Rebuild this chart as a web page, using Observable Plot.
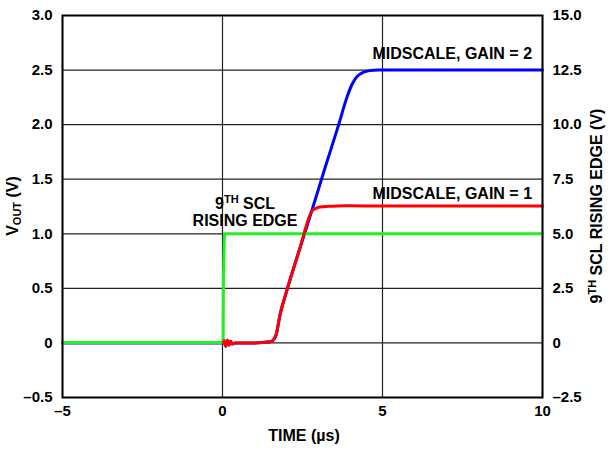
<!DOCTYPE html>
<html><head><meta charset="utf-8">
<script src="https://cdn.jsdelivr.net/npm/d3@7"></script>
<script src="https://cdn.jsdelivr.net/npm/@observablehq/plot@0.6"></script>
<style>
body{margin:0;background:#fff}
#chart svg{font-family:"Liberation Sans",Arial,sans-serif}
</style>
</head><body><div id="chart"></div>
<script>
// Time (µs)
const gain2Time = [-5, 0, 0.05, 0.1, 0.15, 0.2, 0.25, 0.3, 0.4, 1.0, 1.5, 1.6, 1.68, 1.8, 2.0, 2.4, 2.8, 3.2, 3.63, 3.9, 4.05, 4.2, 4.4, 4.6, 4.85, 5.5, 7, 10];
const gain2Vout = [0, 0, 0.02, -0.03, 0.025, -0.02, 0.015, -0.01, 0, 0.0, 0.01, 0.03, 0.08, 0.26, 0.47, 0.85, 1.22, 1.6, 2.0, 2.26, 2.37, 2.44, 2.48, 2.495, 2.5, 2.5, 2.5, 2.5];

const gain1Time = [0.03, 0.05, 0.1, 0.15, 0.2, 0.25, 0.3, 0.4, 1.0, 1.5, 1.6, 1.68, 1.8, 2.0, 2.4, 2.8, 2.9, 3.05, 3.3, 3.6, 4, 5, 7, 10];
const gain1Vout = [0, 0.02, -0.03, 0.025, -0.02, 0.015, -0.01, 0, 0.0, 0.01, 0.03, 0.08, 0.26, 0.47, 0.85, 1.21, 1.23, 1.245, 1.252, 1.255, 1.256, 1.255, 1.255, 1.255];

const sclTime = [-5, 0.02, 0.03, 0.06, 10];
const sclVolt = [0.005, 0.005, 0.6, 1.0, 1.0]; // plotted on the VOUT scale (right axis = ×5)

const yTicks = [-0.5, 0, 0.5, 1, 1.5, 2, 2.5, 3];
const yLeftLabels = ["–0.5", "0", "0.5", "1.0", "1.5", "2.0", "2.5", "3.0"];
const yRightLabels = ["–2.5", "0", "2.5", "5.0", "7.5", "10.0", "12.5", "15.0"];
const xTicks = [-5, 0, 5, 10];
const xTickLabels = ["–5", "0", "5", "10"];

const toRows = (xs, ys) => xs.map((t, i) => ({t, v: ys[i]}));
const gain2 = toRows(gain2Time, gain2Vout);
const gain1 = toRows(gain1Time, gain1Vout);
const scl = toRows(sclTime, sclVolt);

const labels = [
  {t: 7.18, v: 2.65, text: "MIDSCALE, GAIN = 2"},
  {t: 7.18, v: 1.365, text: "MIDSCALE, GAIN = 1"}
];

const plot = Plot.plot({
  width: 613,
  height: 450,
  marginLeft: 62,
  marginRight: 71,
  marginTop: 15,
  marginBottom: 53,
  x: {domain: [-5, 10]},
  y: {domain: [-0.5, 3]},
  style: {fontFamily: "'Liberation Sans', Arial, sans-serif", fontSize: "15px", fontWeight: "bold", color: "#000", background: "#fff", overflow: "visible"},
  marks: [
    Plot.gridX(xTicks, {stroke: "#222", strokeOpacity: 1, strokeWidth: 1.2}),
    Plot.gridY(yTicks, {stroke: "#222", strokeOpacity: 1, strokeWidth: 1.2}),
    Plot.line(gain2, {x: "t", y: "v", stroke: "#0000ff", strokeWidth: 3, curve: "monotone-x"}),
    Plot.line(scl, {x: "t", y: "v", stroke: "#22f022", strokeWidth: 3}),
    Plot.line(gain1, {x: "t", y: "v", stroke: "#ff0000", strokeWidth: 3, curve: "monotone-x"}),
    Plot.frame({stroke: "#000", strokeWidth: 2}),
    Plot.axisY(yTicks, {anchor: "left", tickSize: 0, tickPadding: 10, label: null, tickFormat: d => yLeftLabels[yTicks.indexOf(d)], fontSize: 15, fontWeight: "bold"}),
    Plot.axisY(yTicks, {anchor: "right", tickSize: 0, tickPadding: 10, label: null, tickFormat: d => yRightLabels[yTicks.indexOf(d)], fontSize: 15, fontWeight: "bold"}),
    Plot.axisX(xTicks, {anchor: "bottom", tickSize: 0, tickPadding: 8, label: null, tickFormat: d => xTickLabels[xTicks.indexOf(d)], fontSize: 15, fontWeight: "bold"}),
    Plot.text(labels, {x: "t", y: "v", text: "text", fontSize: 16, fontWeight: "bold", fill: "#000"})
  ]
});

document.getElementById("chart").appendChild(plot);

const svg = d3.select(plot);
const xs = plot.scale("x"), ys = plot.scale("y");
const font = "'Liberation Sans', Arial, sans-serif";

// 9TH SCL / RISING EDGE annotation
const ann = svg.append("g").attr("font-family", font).attr("font-weight", "bold").attr("font-size", 16).attr("text-anchor", "middle").attr("fill", "#000");
const l1 = ann.append("text").attr("x", xs.apply(0.72)).attr("y", ys.apply(1.275)).attr("dy", "0.35em");
l1.append("tspan").text("9");
l1.append("tspan").attr("font-size", 11).attr("dy", -6).text("TH");
l1.append("tspan").attr("dy", 6).text(" SCL");
ann.append("text").attr("x", xs.apply(0.72)).attr("y", ys.apply(1.12)).attr("dy", "0.35em").text("RISING EDGE");

// Axis titles
const ttl = svg.append("g").attr("font-family", font).attr("font-weight", "bold").attr("font-size", 16).attr("fill", "#000").attr("text-anchor", "middle");
ttl.append("text").attr("x", 304).attr("y", 435).attr("dy", "0.35em").text("TIME (µs)");

const yl = ttl.append("text").attr("transform", "translate(18,206) rotate(-90)");
yl.append("tspan").text("V");
yl.append("tspan").attr("font-size", 11).attr("dy", 3).text("OUT");
yl.append("tspan").attr("dy", -3).text(" (V)");

const yr = ttl.append("text").attr("transform", "translate(602,206) rotate(-90)");
yr.append("tspan").text("9");
yr.append("tspan").attr("font-size", 11).attr("dy", -6).text("TH");
yr.append("tspan").attr("dy", 6).text(" SCL RISING EDGE (V)");
</script>
</body></html>
